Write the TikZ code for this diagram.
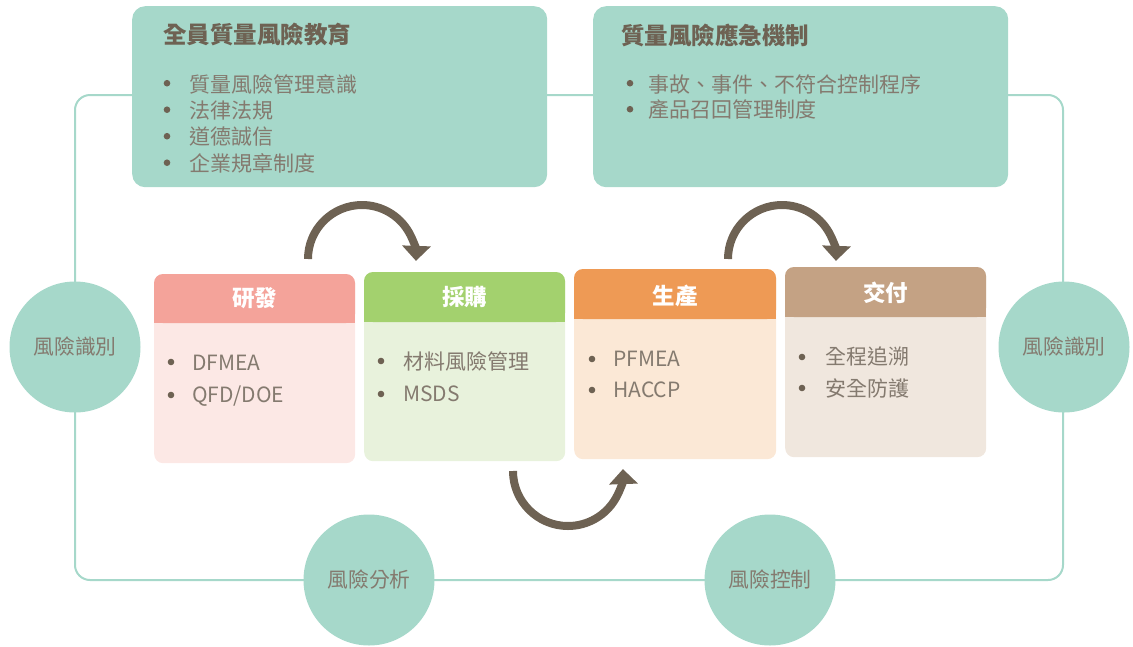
\documentclass[tikz,border=0pt]{standalone}
\usepackage{fontspec}
\setmainfont{Noto Sans CJK TC}
\usetikzlibrary{arrows.meta}
\definecolor{teal1}{HTML}{A6D8CA}
\definecolor{ttl}{HTML}{6E6253}
\definecolor{txt}{HTML}{847A6F}
\definecolor{arr}{HTML}{6E6253}
\definecolor{rdh}{HTML}{F4A39A}\definecolor{rdb}{HTML}{FCE8E5}
\definecolor{puh}{HTML}{A3D16E}\definecolor{pub}{HTML}{E8F2DC}
\definecolor{prh}{HTML}{EE9A55}\definecolor{prb}{HTML}{FBE8D6}
\definecolor{deh}{HTML}{C4A284}\definecolor{deb}{HTML}{F0E7DE}
\begin{document}
\begin{tikzpicture}[x=1pt,y=-1pt,
  boxtitle/.style={anchor=west,inner sep=0pt,text=ttl,font=\fontsize{23.5}{26}\selectfont\bfseries},
  item/.style={anchor=west,inner sep=0pt,text=txt,font=\fontsize{21}{26}\selectfont},
  cardtitle/.style={inner sep=0pt,text=white,font=\fontsize{22.5}{26}\selectfont\bfseries},
  dot/.style={fill=ttl},
  topbox/.style={fill=teal1,rounded corners=13pt,inner sep=0pt,anchor=north west,minimum width=415pt,minimum height=181pt},
  cardbody/.style={rounded corners=9pt,inner sep=0pt,anchor=north west},
  riskcircle/.style={circle,fill=teal1,inner sep=0pt,minimum size=131pt,text=txt,font=\fontsize{20.8}{24}\selectfont},
  looparrow/.style={draw=arr,line width=8pt,-{Triangle[length=15pt,width=28pt]}}
]
\useasboundingbox (0,0) rectangle (1133,646);

% loop line
\draw[teal1,line width=2pt,rounded corners=15pt] (75,95) rectangle (1063,580);

% top boxes
\node[topbox] (edu) at (132,6) {};
\node[topbox] (emg) at (593,6) {};
\node[boxtitle] (edut) at (163,35) {全員質量風險教育};
\node[boxtitle] (emgt) at (621,35) {質量風險應急機制};
\foreach \y/\t [count=\i] in {84/質量風險管理意識,110.5/法律法規,137/道德誠信,163.5/企業規章制度}{
  \fill[dot] (167,\y-0.8) circle (3.3pt);
  \node[item] (edu\i) at (189,\y) {\t};
}
\foreach \y/\t [count=\i] in {84/事故、事件、不符合控制程序,110/產品召回管理制度}{
  \fill[dot] (630,\y-0.8) circle (3.3pt);
  \node[item] (emg\i) at (648,\y) {\t};
}

% circles
\node[riskcircle] (idl) at (75,347) {風險識別};
\node[riskcircle] (idr) at (1064,347) {風險識別};
\node[riskcircle] (ana) at (369,580) {風險分析};
\node[riskcircle] (ctl) at (770,580) {風險控制};

% cards
% 研發
\node[cardbody,fill=rdb,minimum width=201pt,minimum height=189pt] (rd) at (154,274) {};
\fill[rdh,rounded corners=9pt] (154,274) rectangle (355,323);
\fill[rdh] (154,312) rectangle (355,323);
\node[cardtitle] (rdt) at (254.5,298) {研發};
\fill[dot] (171,362) circle (3.3pt); \node[item] (rd1) at (192,363) {DFMEA};
\fill[dot] (171,395) circle (3.3pt); \node[item] (rd2) at (192,396) {QFD/DOE};
% 採購
\node[cardbody,fill=pub,minimum width=201pt,minimum height=189pt] (pu) at (364,272) {};
\fill[puh,rounded corners=9pt] (364,272) rectangle (565,322);
\fill[puh] (364,311) rectangle (565,322);
\node[cardtitle] (put) at (464.5,297) {採購};
\fill[dot] (381,361) circle (3.3pt); \node[item] (pu1) at (403,361) {材料風險管理};
\fill[dot] (381,394) circle (3.3pt); \node[item] (pu2) at (403,394) {MSDS};
% 生產
\node[cardbody,fill=prb,minimum width=202pt,minimum height=190pt] (pr) at (574,269) {};
\fill[prh,rounded corners=9pt] (574,269) rectangle (776,319);
\fill[prh] (574,308) rectangle (776,319);
\node[cardtitle] (prt) at (675,296) {生產};
\fill[dot] (592,359) circle (3.3pt); \node[item] (pr1) at (613,359) {PFMEA};
\fill[dot] (592,390) circle (3.3pt); \node[item] (pr2) at (613,390) {HACCP};
% 交付
\node[cardbody,fill=deb,minimum width=201pt,minimum height=190pt] (de) at (785,267) {};
\fill[deh,rounded corners=9pt] (785,267) rectangle (986,317);
\fill[deh] (785,306) rectangle (986,317);
\node[cardtitle] (det) at (885.5,293) {交付};
\fill[dot] (802,357) circle (3.3pt); \node[item] (de1) at (825,357) {全程追溯};
\fill[dot] (802,388) circle (3.3pt); \node[item] (de2) at (825,388) {安全防護};

% arrows
\coordinate (a1s) at (308,259);
\coordinate (a2s) at (513,471);
\coordinate (a3s) at (728,259);
\draw[looparrow] (a1s) arc[start angle=180,end angle=362,radius=54];
\draw[looparrow] (a2s) arc[start angle=180,end angle=-2,radius=55];
\draw[looparrow] (a3s) arc[start angle=180,end angle=362,radius=54];
\end{tikzpicture}
\end{document}
